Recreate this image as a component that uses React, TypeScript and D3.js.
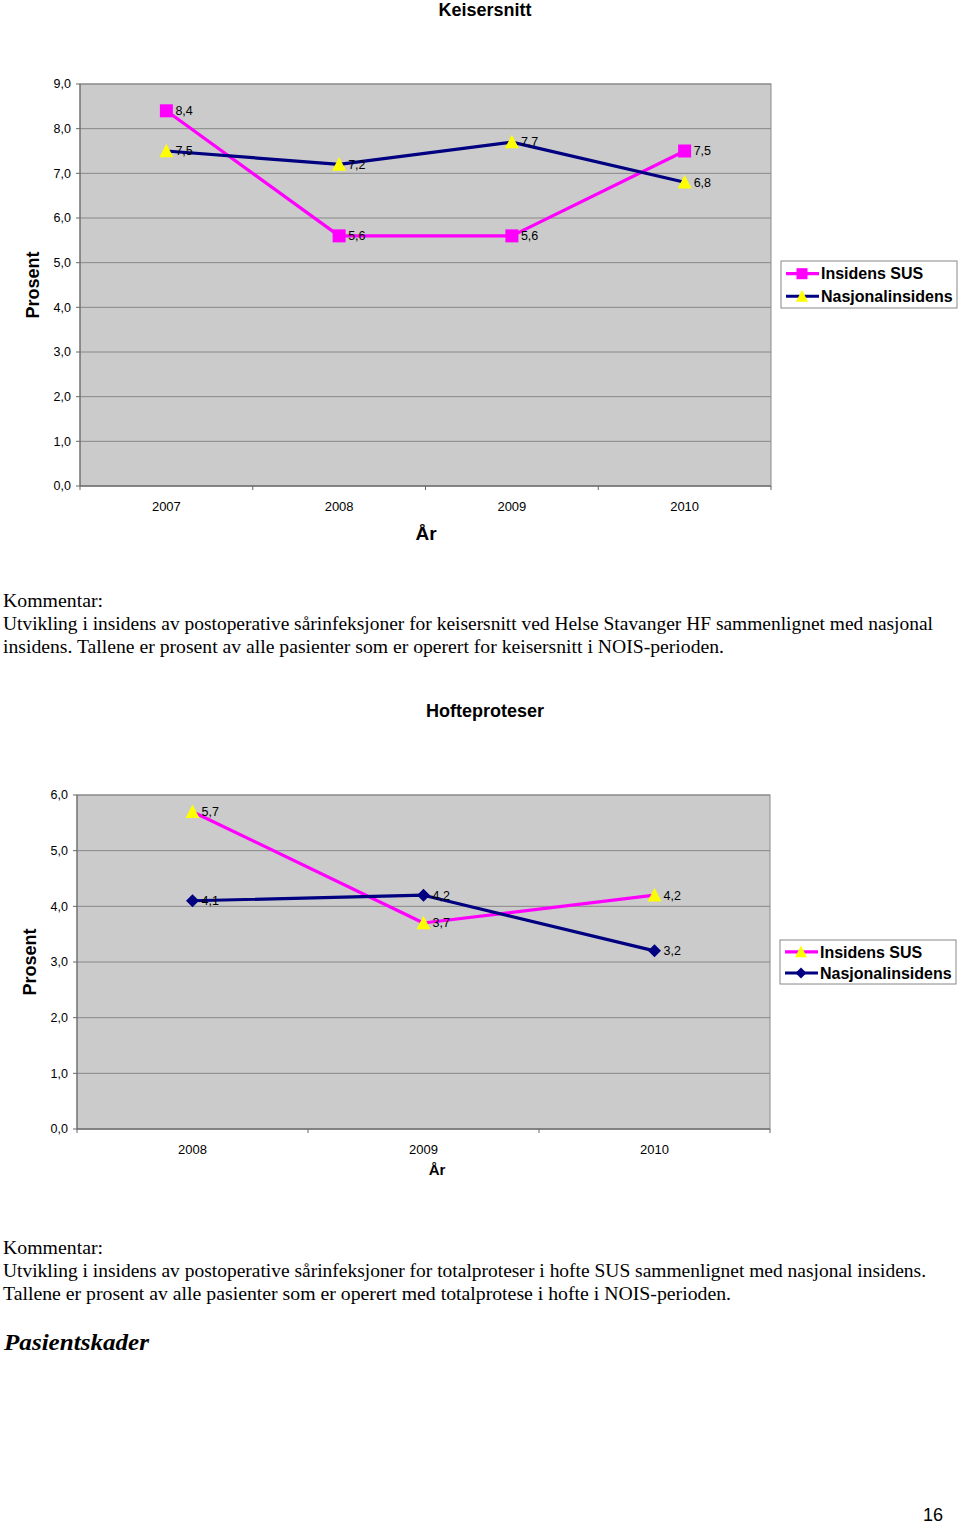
import React from "react";
import * as d3 from "d3";

// Keisersnitt
const years1 = ["2007", "2008", "2009", "2010"];
const susKeiser = [8.4, 5.6, 5.6, 7.5];
const nasjKeiser = [7.5, 7.2, 7.7, 6.8];

// Hofteproteser
const years2 = ["2008", "2009", "2010"];
const susHofte = [5.7, 3.7, 4.2];
const nasjHofte = [4.1, 4.2, 3.2];

const seriesNames = ["Insidens SUS", "Nasjonalinsidens"];

const SANS = "'Liberation Sans', Arial, sans-serif";
const SERIF = "'Liberation Serif', 'DejaVu Serif', serif";
const fmt = (v: number) => v.toFixed(1).replace(".", ",");

function Marker({ kind, x, y, fill, size }: any) {
  if (kind === "square") {
    return <rect x={x - size / 2} y={y - size / 2} width={size} height={size} fill={fill} />;
  }
  if (kind === "triangle") {
    const h = size * 0.9;
    return (
      <path
        d={`M${x},${y - h / 2 - 1} L${x + size / 2},${y + h / 2} L${x - size / 2},${y + h / 2} Z`}
        fill={fill}
      />
    );
  }
  const r = size / 2;
  return <path d={`M${x},${y - r} L${x + r},${y} L${x},${y + r} L${x - r},${y} Z`} fill={fill} />;
}

type Series = { name: string; values: number[]; color: string; marker: string; mfill: string; msize: number };

function LineChart({ cats, series, yMax, plot, title, titleY, yLabelX, xLabelX, xLabelY, xLabelSize, legend, tickSize }: any) {
  const x = d3.scaleBand<string>().domain(cats).range([plot.left, plot.right]);
  const y = d3.scaleLinear().domain([0, yMax]).range([plot.bottom, plot.top]);
  const ticks = d3.range(0, yMax + 1);
  const line = d3
    .line<number>()
    .x((_, i) => (x(cats[i]) as number) + x.bandwidth() / 2)
    .y((d) => y(d));
  const bounds = cats.map((c: string) => x(c) as number).concat([plot.right]);
  const cx = (i: number) => (x(cats[i]) as number) + x.bandwidth() / 2;
  return (
    <g>
      <text x={485} y={titleY} textAnchor="middle" fontFamily={SANS} fontWeight="bold" fontSize={18} fill="#000">
        {title}
      </text>
      <rect x={plot.left} y={plot.top} width={plot.right - plot.left} height={plot.bottom - plot.top} fill="#cbcbcb" stroke="#8a8a8a" />
      {ticks.map((t: number) => (
        <g key={t}>
          <line x1={plot.left} x2={plot.right} y1={y(t)} y2={y(t)} stroke="#888" strokeWidth={1} />
          <line x1={plot.left - 4} x2={plot.left} y1={y(t)} y2={y(t)} stroke="#666" />
          <text x={plot.left - 9} y={y(t)} dy="0.35em" textAnchor="end" fontFamily={SANS} fontSize={12.5} fill="#000">
            {fmt(t)}
          </text>
        </g>
      ))}
      <line x1={plot.left} x2={plot.left} y1={plot.top} y2={plot.bottom} stroke="#666" />
      <line x1={plot.left} x2={plot.right} y1={plot.bottom} y2={plot.bottom} stroke="#666" />
      {bounds.map((b: number, i: number) => (
        <line key={i} x1={b} x2={b} y1={plot.bottom} y2={plot.bottom + 4} stroke="#666" />
      ))}
      {cats.map((c: string, i: number) => (
        <text key={c} x={cx(i)} y={plot.bottom + 20} dy="0.35em" textAnchor="middle" fontFamily={SANS} fontSize={tickSize} fill="#000">
          {c}
        </text>
      ))}
      <text
        transform={`translate(${yLabelX},${(plot.top + plot.bottom) / 2}) rotate(-90)`}
        textAnchor="middle"
        dy="0.35em"
        fontFamily={SANS}
        fontWeight="bold"
        fontSize={18}
        fill="#000"
      >
        Prosent
      </text>
      <text x={xLabelX} y={xLabelY} dy="0.35em" textAnchor="middle" fontFamily={SANS} fontWeight="bold" fontSize={xLabelSize} fill="#000">
        År
      </text>
      {series.map((s: Series) => (
        <path key={s.name} d={line(s.values) as string} fill="none" stroke={s.color} strokeWidth={3.2} strokeLinejoin="round" />
      ))}
      {series.map((s: Series) =>
        s.values.map((v, i) => (
          <g key={s.name + i}>
            <Marker kind={s.marker} x={cx(i)} y={y(v)} fill={s.mfill} size={s.msize} />
            <text x={cx(i) + 9} y={y(v)} dy="0.35em" fontFamily={SANS} fontSize={12.5} fill="#000">
              {fmt(v)}
            </text>
          </g>
        ))
      )}
      <rect x={legend.x} y={legend.y} width={legend.w} height={legend.h} fill="#fff" stroke="#888" />
      {series.map((s: Series, i: number) => {
        const ly = legend.y + legend.h * (i === 0 ? 0.27 : 0.75);
        return (
          <g key={s.name}>
            <line x1={legend.x + 5} x2={legend.x + 38} y1={ly} y2={ly} stroke={s.color} strokeWidth={3.2} />
            <Marker kind={s.marker} x={legend.x + 21} y={ly} fill={s.mfill} size={s.msize - 2} />
            <text x={legend.x + 40} y={ly} dy="0.36em" fontFamily={SANS} fontWeight="bold" fontSize={legend.fs} fill="#000">
              {s.name}
            </text>
          </g>
        );
      })}
    </g>
  );
}

function Para({ lines, y0, widths }: any) {
  return (
    <g>
      {lines.map((l: string, i: number) => (
        <text
          key={i}
          x={3}
          y={y0 + i * 23}
          fontFamily={SERIF}
          fontSize={19}
          fill="#000"
          textLength={widths[i] || undefined}
          lengthAdjust="spacingAndGlyphs"
        >
          {l}
        </text>
      ))}
    </g>
  );
}

export default function App() {
  const s1: Series[] = [
    { name: seriesNames[0], values: susKeiser, color: "#ff00ff", marker: "square", mfill: "#ff00ff", msize: 13 },
    { name: seriesNames[1], values: nasjKeiser, color: "#000080", marker: "triangle", mfill: "#ffff00", msize: 14 },
  ];
  const s2: Series[] = [
    { name: seriesNames[0], values: susHofte, color: "#ff00ff", marker: "triangle", mfill: "#ffff00", msize: 14 },
    { name: seriesNames[1], values: nasjHofte, color: "#000080", marker: "diamond", mfill: "#000080", msize: 13 },
  ];
  return (
    <svg width={960} height={1524} style={{ position: "absolute", left: 0, top: 0, background: "#fff" }}>
      <LineChart
        cats={years1}
        series={s1}
        yMax={9}
        plot={{ left: 80, right: 771, top: 84, bottom: 486 }}
        title="Keisersnitt"
        titleY={16}
        yLabelX={33}
        xLabelX={426}
        xLabelY={533}
        xLabelSize={19}
        tickSize={13}
        legend={{ x: 781, y: 261, w: 176, h: 47, fs: 16 }}
      />
      <Para lines={["Kommentar:"]} y0={607} widths={[100]} />
      <Para
        lines={[
          "Utvikling i insidens av postoperative sårinfeksjoner for keisersnitt ved Helse Stavanger HF sammenlignet med nasjonal",
          "insidens. Tallene er prosent av alle pasienter som er operert for keisersnitt i NOIS-perioden.",
        ]}
        y0={630}
        widths={[930, 721]}
      />
      <LineChart
        cats={years2}
        series={s2}
        yMax={6}
        plot={{ left: 77, right: 770, top: 795, bottom: 1129 }}
        title="Hofteproteser"
        titleY={717}
        yLabelX={30}
        xLabelX={437}
        xLabelY={1170}
        xLabelSize={15}
        tickSize={13}
        legend={{ x: 780, y: 940, w: 176, h: 44, fs: 16 }}
      />
      <Para lines={["Kommentar:"]} y0={1254} widths={[100]} />
      <Para
        lines={[
          "Utvikling i insidens av postoperative sårinfeksjoner for totalproteser i hofte SUS sammenlignet med nasjonal insidens.",
          "Tallene er prosent av alle pasienter som er operert med totalprotese i hofte i NOIS-perioden.",
        ]}
        y0={1277}
        widths={[923, 728]}
      />
      <text x={4} y={1350} fontFamily={SERIF} fontWeight="bold" fontStyle="italic" fontSize={23} fill="#000" textLength={145} lengthAdjust="spacingAndGlyphs">
        Pasientskader
      </text>
      <text x={943} y={1515} dy="0.35em" textAnchor="end" fontFamily={SANS} fontSize={18} fill="#000">
        16
      </text>
    </svg>
  );
}
